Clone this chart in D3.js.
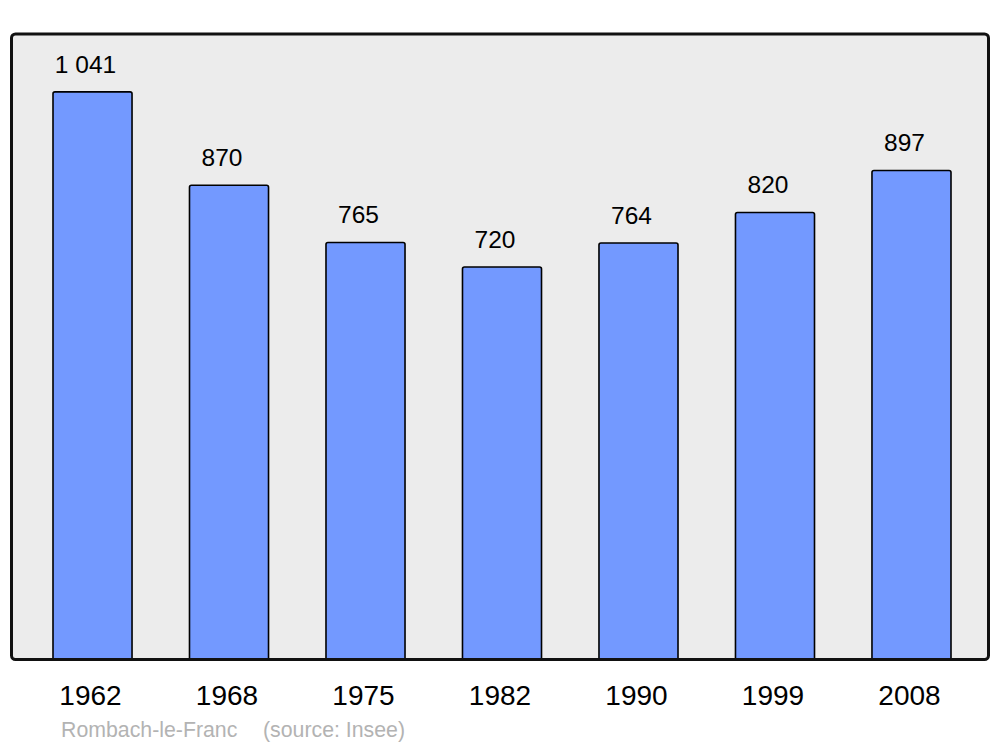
<!DOCTYPE html>
<html>
<head>
<meta charset="utf-8">
<script src="https://cdn.jsdelivr.net/npm/d3@7/dist/d3.min.js"></script>
<style>
html,body{margin:0;padding:0;background:#fff;}
svg{display:block;font-family:"Liberation Sans",Arial,sans-serif;}
</style>
</head>
<body>
<svg id="chart" width="1000" height="747"></svg>
<script>
const years = ["1962","1968","1975","1982","1990","1999","2008"];
const population = [1041, 870, 765, 720, 764, 820, 897];
const valueLabels = ["1 041","870","765","720","764","820","897"];
const footerTitle = "Rombach-le-Franc";
const footerSource = "(source: Insee)";

const svg = d3.select("#chart");

const panel = {x: 11.5, y: 34, w: 977, h: 625.5};
const baseline = 660;

const x = d3.scaleBand().domain(years).range([53, 951]).paddingInner(0.421).paddingOuter(0);
const y = d3.scaleLinear().domain([0, 1147]).range([baseline, 34]);

svg.append("rect")
  .attr("x", panel.x).attr("y", panel.y)
  .attr("width", panel.w).attr("height", panel.h)
  .attr("rx", 4).attr("ry", 4)
  .attr("fill", "#ececec");

svg.append("g").selectAll("rect")
  .data(years)
  .join("rect")
  .attr("x", d => x(d))
  .attr("y", (d, i) => y(population[i]))
  .attr("width", x.bandwidth())
  .attr("height", (d, i) => baseline - y(population[i]))
  .attr("rx", 2).attr("ry", 2)
  .attr("fill", "#7399ff")
  .attr("stroke", "#000")
  .attr("stroke-width", 1.6);

svg.append("g").selectAll("text")
  .data(years)
  .join("text")
  .attr("x", d => x(d) + x.bandwidth() / 2 - 7)
  .attr("y", (d, i) => y(population[i]) - 19)
  .attr("text-anchor", "middle")
  .attr("font-size", 24.5)
  .attr("fill", "#000")
  .text((d, i) => valueLabels[i]);

svg.append("rect")
  .attr("x", panel.x).attr("y", panel.y)
  .attr("width", panel.w).attr("height", panel.h)
  .attr("rx", 4).attr("ry", 4)
  .attr("fill", "none")
  .attr("stroke", "#111")
  .attr("stroke-width", 3);

// x axis labels
const xAxis = d3.axisBottom(x).tickSize(0).tickPadding(0);
const gx = svg.append("g").attr("transform", `translate(-2,${baseline})`).call(xAxis);
gx.select(".domain").remove();
gx.selectAll("text")
  .attr("y", 45)
  .attr("dy", null)
  .attr("font-size", 28)
  .attr("font-family", "'Liberation Sans', Arial, sans-serif")
  .attr("fill", "#000");

svg.append("text")
  .attr("x", 61).attr("y", 737)
  .attr("font-size", 21.3)
  .attr("fill", "#b3b3b3")
  .text(footerTitle);
svg.append("text")
  .attr("x", 263).attr("y", 737)
  .attr("font-size", 21.3)
  .attr("fill", "#b3b3b3")
  .text(footerSource);
</script>
</body>
</html>
